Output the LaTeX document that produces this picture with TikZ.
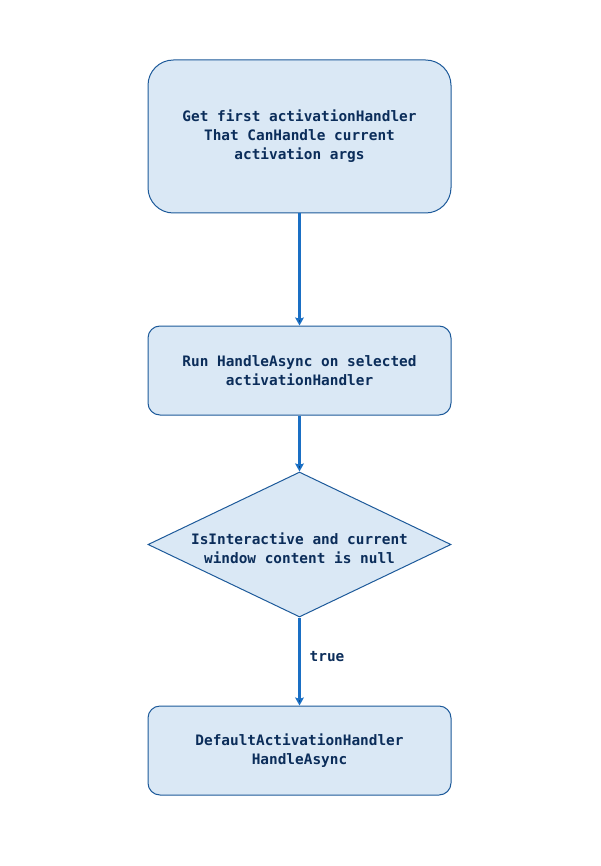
\documentclass[tikz,border=0pt]{standalone}
\usepackage{fontspec}
\setmonofont{DejaVu Sans Mono}
\usetikzlibrary{shapes.geometric,arrows.meta}
\definecolor{boxfill}{HTML}{DAE8F5}
\definecolor{boxline}{HTML}{1D5A9A}
\definecolor{arrowline}{HTML}{1A6FC4}
\definecolor{labeltext}{HTML}{0B2D5A}
\begin{document}
\begin{tikzpicture}[x=0.75pt,y=-0.75pt,
        stepbox/.style={shape=rectangle,rounded corners=9pt,draw=boxline,fill=boxfill,line width=0.75pt,
            minimum width=227.25pt,minimum height=66.75pt,align=center,inner sep=0pt,
            text=labeltext,font=\fontsize{10.8}{14.25}\selectfont\ttfamily\bfseries},
        decision/.style={stepbox,shape=diamond,sharp corners,aspect=2.09,minimum height=108.75pt},
        flow/.style={draw=arrowline,line width=1.6pt,-{Stealth[length=6pt,width=6.5pt,inset=1pt]}}]
        \useasboundingbox (0,0) rectangle (600,866);

        \node[stepbox,minimum height=114.75pt,rounded corners=19pt] (pick) at (299.5,136.5) {Get first activationHandler\\That CanHandle current\\activation args};
        \node[stepbox] (run) at (299.5,370.5) {Run HandleAsync on selected\\activationHandler};
        \node[decision] (check) at (299.5,544.5) {\smash{\makebox[0pt]{\raisebox{-7pt}{\begin{tabular}{@{}c@{}}IsInteractive and current\\window content is null\end{tabular}}}}};
        \node[stepbox] (default) at (299.5,750.5) {DefaultActivationHandler\\HandleAsync};

        \path [flow] (pick) edge (run);
        \path [flow] (run) edge (check);
        \path [flow] (check) edge node[pos=0.44,right=3.5pt,text=labeltext,font=\fontsize{10.8}{14.25}\selectfont\ttfamily\bfseries] {true} (default);
    \end{tikzpicture}
\end{document}
